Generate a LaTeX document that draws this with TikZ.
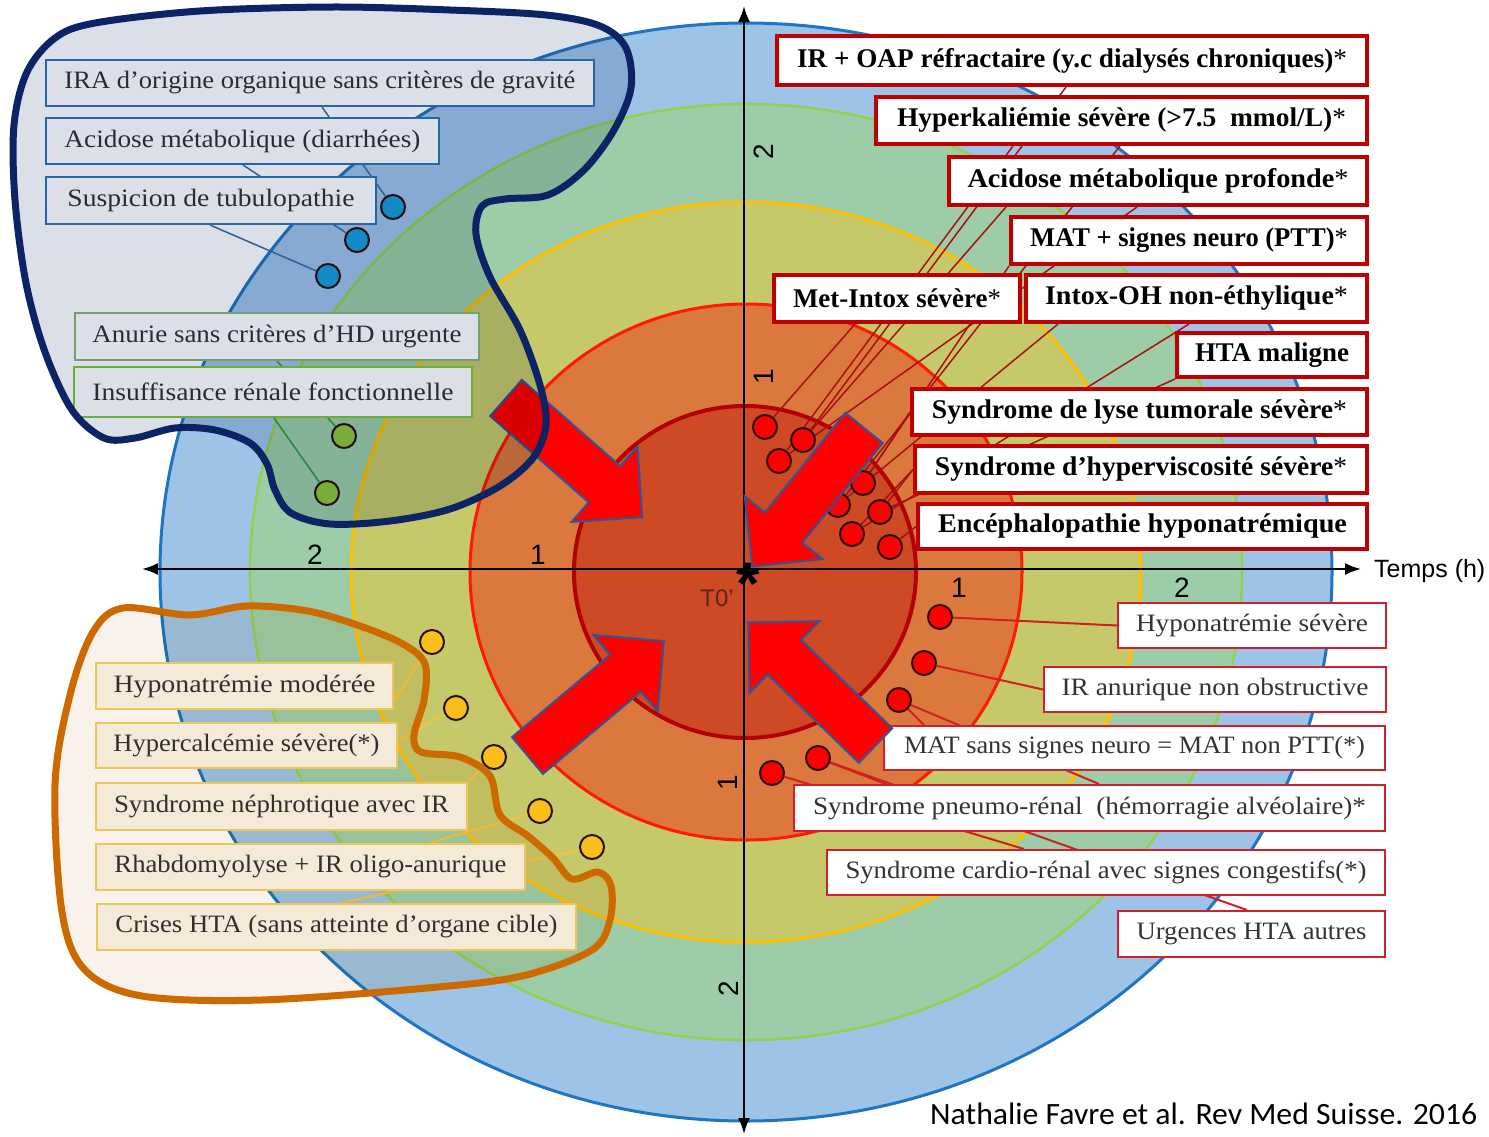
\documentclass[tikz,border=0pt]{standalone}
\usepackage{fontspec}
\usepackage{graphicx}
\setmainfont{Liberation Serif}
\newfontfamily\sansfont{Liberation Sans}
\newfontfamily\citefont{Carlito}
\usetikzlibrary{arrows.meta,calc}
\pgfdeclarelayer{rings}
\pgfdeclarelayer{links}
\pgfsetlayers{rings,links,main}
% stretch a label horizontally to a given width (in pt), keeping its height
\newcommand{\fitw}[2]{\resizebox{#1pt}{\height}{#2}}
% light asterisk used after the bold labels
\newcommand{\lightast}{{\mdseries*}}

\definecolor{ringblue}{HTML}{9DC3E6}
\definecolor{ringblueline}{HTML}{1F75C2}
\definecolor{ringgreen}{HTML}{9CCDA8}
\definecolor{ringgreenline}{HTML}{92D050}
\definecolor{ringyellow}{HTML}{C6C96A}
\definecolor{ringyellowline}{HTML}{FFC000}
\definecolor{ringorange}{HTML}{DB783E}
\definecolor{ringorangeline}{HTML}{FF1A00}
\definecolor{ringcore}{HTML}{CE4A25}
\definecolor{ringcoreline}{HTML}{B40000}
\definecolor{boxblue}{HTML}{2E75B6}
\definecolor{boxgreyg}{HTML}{8DB47F}
\definecolor{boxgreen}{HTML}{7CC840}
\definecolor{boxgold}{HTML}{F0D264}
\definecolor{boxcream}{HTML}{FBF6EC}
\definecolor{boxred}{HTML}{C00000}
\definecolor{boxredthin}{HTML}{D0202E}
\definecolor{textgrey}{HTML}{333333}
\definecolor{dotblue}{HTML}{149ED9}
\definecolor{dotgreen}{HTML}{8CC63E}
\definecolor{dotyellow}{HTML}{FABF1B}
\definecolor{dotred}{HTML}{FF0000}
\definecolor{dotedge}{HTML}{2A1010}
\definecolor{linkblue}{HTML}{3A6EA0}
\definecolor{linkgreen}{HTML}{2E9A48}
\definecolor{linkyellow}{HTML}{F2C43C}
\definecolor{linkred}{HTML}{A81010}
\definecolor{linkredb}{HTML}{D02020}
\definecolor{arrowedge}{HTML}{2F5597}
\definecolor{navyblob}{HTML}{0C2466}
\definecolor{blobgrey}{RGB}{218,223,232}
\definecolor{blobcream}{RGB}{249,242,234}
\definecolor{blobedge}{HTML}{CC6A00}
\definecolor{tzero}{RGB}{95,35,25}

\begin{document}
\begin{tikzpicture}[x=1pt,y=-1pt,
  ring/.style={line width=3pt},
  tick/.style={font=\sansfont\fontsize{28}{30}\selectfont, inner sep=0pt},
  tlbox/.style={draw=boxblue, line width=2pt, fill=white, inner sep=0pt, text=textgrey, font=\fontsize{25}{30}\selectfont},
  tgbox/.style={tlbox, draw=boxgreyg},
  tgbbox/.style={tlbox, draw=boxgreen},
  blbox/.style={draw=boxgold, line width=2pt, fill=boxcream, inner sep=0pt, text=textgrey, font=\fontsize{25}{30}\selectfont},
  rbbox/.style={draw=boxred, line width=4pt, fill=white, inner sep=0pt, text=black, font=\fontsize{27}{32}\selectfont\bfseries},
  rtbox/.style={draw=boxredthin, line width=2pt, fill=white, inner sep=0pt, text=textgrey, font=\fontsize{25}{30}\selectfont},
  dot/.style={circle, draw=dotedge, line width=2pt, minimum size=24pt, inner sep=0pt},
  dotb/.style={dot, fill=dotblue},
  dotg/.style={dot, fill=dotgreen},
  doty/.style={dot, fill=dotyellow},
  dotr/.style={dot, fill=dotred},
  linkb/.style={draw=linkblue, line width=1.5pt},
  linkg/.style={draw=linkgreen, line width=1.5pt},
  linky/.style={draw=linkyellow, line width=2pt},
  linkr/.style={draw=linkred, line width=1.5pt},
  linkrb/.style={draw=linkredb, line width=2pt},
  bigarrow/.style={fill=red, draw=arrowedge, line width=2pt, line join=miter},
  axis/.style={line width=2pt, {Latex[length=16pt,width=12pt]}-{Latex[length=16pt,width=12pt]}}
]

% ---------- concentric time rings and axes ----------
\begin{pgfonlayer}{rings}
\fill[white] (0,0) rectangle (1489,1136);
\filldraw[ring, fill=ringblue, draw=ringblueline] (746,572) ellipse [x radius=586pt, y radius=549pt];
\filldraw[ring, line width=2.5pt, fill=ringgreen, draw=ringgreenline] (746,572) ellipse [x radius=496pt, y radius=468pt];
\filldraw[ring, fill=ringyellow, draw=ringyellowline] (746,572) ellipse [x radius=395pt, y radius=370pt];
\filldraw[ring, fill=ringorange, draw=ringorangeline] (746,572) ellipse [x radius=276pt, y radius=268pt];
\filldraw[ring, line width=4pt, fill=ringcore, draw=ringcoreline] (745,572) ellipse [x radius=171pt, y radius=166pt];

\coordinate (xl) at (142,569);
\coordinate (xr) at (1361,569);
\coordinate (yt) at (744,6);
\coordinate (yb) at (744,1134);
\draw[axis] (xl) -- (xr);
\draw[axis] (yb) -- (yt);
\end{pgfonlayer}

% axis labels
\node[tick] (hl2) at (315,555) {2};
\node[tick] (hl1) at (538,555) {1};
\node[tick] (hr1) at (959,588) {1};
\node[tick] (hr2) at (1182,588) {2};
\node[tick, rotate=90] (vt2) at (764,152) {2};
\node[tick, rotate=90] (vt1) at (764,377) {1};
\node[tick, rotate=90] (vb1) at (728,783) {1};
\node[tick, rotate=90] (vb2) at (729,989) {2};
\node[font=\sansfont\fontsize{25}{30}\selectfont, anchor=west, inner sep=0pt] (temps) at (1374,571) {Temps (h)};
\node[font=\sansfont\fontsize{24}{28}\selectfont, text=tzero, inner sep=0pt] (tzero) at (717,598) {T0’};
\node[font=\sansfont\bfseries\fontsize{60}{60}\selectfont, inner sep=0pt] (origin) at (748,584) {*};

% ---------- dots ----------
\node[dotb] (db1) at (393,207) {};
\node[dotb] (db2) at (357,240) {};
\node[dotb] (db3) at (328,276) {};
\node[dotg] (dg1) at (344,436) {};
\node[dotg] (dg2) at (327,493) {};

\node[doty] (dy1) at (432,642) {};
\node[doty] (dy2) at (456,708) {};
\node[doty] (dy3) at (494,757) {};
\node[doty] (dy4) at (540,811) {};
\node[doty] (dy5) at (592,847) {};

\node[dotr] (ra) at (765,427) {};
\node[dotr] (rb) at (803,440) {};
\node[dotr] (rc) at (779,461) {};
\node[dotr] (rd) at (863,483) {};
\node[dotr] (re) at (838,505) {};
\node[dotr] (rf) at (880,512) {};
\node[dotr] (rg) at (852,534) {};
\node[dotr] (rh) at (890,547) {};

\node[dotr] (sa) at (940,617) {};
\node[dotr] (sb) at (924,663) {};
\node[dotr] (sc) at (899,700) {};
\node[dotr] (sd) at (818,758) {};
\node[dotr] (se) at (772,773) {};

% ---------- boxes, upper left ----------
\node[tlbox, minimum width=548pt, minimum height=46pt] (t1) at (320,83) {\fitw{511}{IRA d’origine organique sans critères de gravité}};
\node[tlbox, minimum width=393pt, minimum height=46pt] (t2) at (242.5,141) {\fitw{356}{Acidose métabolique (diarrhées)}};
\node[tlbox, minimum width=330pt, minimum height=47pt] (t3) at (211,200.5) {\fitw{287}{Suspicion de tubulopathie}};
\node[tgbox, minimum width=404pt, minimum height=47pt] (t4) at (277,336.5) {\fitw{369}{Anurie sans critères d’HD urgente}};
\node[tgbbox, minimum width=398pt, minimum height=50pt] (t5) at (273,392) {\fitw{361}{Insuffisance rénale fonctionnelle}};

% ---------- boxes, lower left ----------
\node[blbox, minimum width=297pt, minimum height=46pt] (b1) at (244.5,686) {\fitw{262}{Hyponatrémie modérée}};
\node[blbox, minimum width=301pt, minimum height=45pt] (b2) at (246.5,745.5) {\fitw{266}{Hypercalcémie sévère(*)}};
\node[blbox, minimum width=371pt, minimum height=47pt] (b3) at (281.5,806.5) {\fitw{335}{Syndrome néphrotique avec IR}};
\node[blbox, minimum width=429pt, minimum height=46pt] (b4) at (310.5,867) {\fitw{392}{Rhabdomyolyse + IR oligo-anurique}};
\node[blbox, minimum width=479pt, minimum height=46pt] (b5) at (336.5,927) {\fitw{442}{Crises HTA (sans atteinte d’organe cible)}};

% ---------- boxes, upper right ----------
\node[rbbox, minimum width=590pt, minimum height=49pt] (r1) at (1072,60.5) {\fitw{550}{IR + OAP réfractaire (y.c dialysés chroniques)\lightast}};
\node[rbbox, minimum width=491pt, minimum height=47pt] (r2) at (1121.5,120.5) {\fitw{449}{Hyperkaliémie sévère (>7.5\ \ mmol/L)\lightast}};
\node[rbbox, minimum width=418pt, minimum height=48pt] (r3) at (1158,181) {\fitw{381}{Acidose métabolique profonde\lightast}};
\node[rbbox, minimum width=356pt, minimum height=47pt] (r4) at (1189,240.5) {\fitw{318}{MAT + signes neuro (PTT)\lightast}};
\node[rbbox, minimum width=246pt, minimum height=47pt] (r5) at (897,298.5) {\fitw{208}{Met-Intox sévère\lightast}};
\node[rbbox, minimum width=341pt, minimum height=47pt] (r6) at (1196.5,298.5) {\fitw{303}{Intox-OH non-éthylique\lightast}};
\node[rbbox, minimum width=190pt, minimum height=44pt] (r7) at (1272,355) {\fitw{154}{HTA maligne}};
\node[rbbox, minimum width=455pt, minimum height=46pt] (r8) at (1139.5,412) {\fitw{415}{Syndrome de lyse tumorale sévère\lightast}};
\node[rbbox, minimum width=452pt, minimum height=47pt] (r9) at (1141,469.5) {\fitw{412}{Syndrome d’hyperviscosité sévère\lightast}};
\node[rbbox, minimum width=449pt, minimum height=45pt] (r10) at (1142.5,526.5) {\fitw{409}{Encéphalopathie hyponatrémique}};

% ---------- boxes, lower right ----------
\node[rtbox, minimum width=268pt, minimum height=45pt] (s1) at (1252,625.5) {\fitw{232}{Hyponatrémie sévère}};
\node[rtbox, minimum width=342pt, minimum height=45pt] (s2) at (1215,689.5) {\fitw{307}{IR anurique non obstructive}};
\node[rtbox, minimum width=501pt, minimum height=44pt] (s3) at (1134.5,748) {\fitw{461}{MAT sans signes neuro = MAT non PTT(*)}};
\node[rtbox, minimum width=591pt, minimum height=46pt] (s4) at (1089.5,808) {\fitw{553}{Syndrome pneumo-rénal\ \ (hémorragie alvéolaire)*}};
\node[rtbox, minimum width=558pt, minimum height=45pt] (s5) at (1106,872.5) {\fitw{521}{Syndrome cardio-rénal avec signes congestifs(*)}};
\node[rtbox, minimum width=267pt, minimum height=46pt] (s6) at (1251.5,934) {\fitw{230}{Urgences HTA autres}};

% ---------- connectors (behind boxes and dots) ----------
\begin{pgfonlayer}{links}
\draw[linkb] ($(t1.south west)+(277,0)$) -- (db1);
\draw[linkb] ($(t2.south west)+(198,0)$) -- (db2);
\draw[linkb] ($(t3.south west)+(165,0)$) -- (db3);
\draw[linkg] ($(t4.south west)+(203,0)$) -- (dg1);
\draw[linkg] ($(t5.south west)+(201,0)$) -- (dg2);

\draw[linky] (dy1) -- ($(b1.south east)+(0,-9)$);
\draw[linky] (dy2) -- ($(b2.east)+(0,-5)$);
\draw[linky] (dy3) -- (b3.north east);
\draw[linky] (dy4) -- ($(b4.north west)+(334,0)$);
\draw[linky] (dy5) -- ($(b5.north west)+(245,0)$);

\draw[linkr] (ra) -- ($(r5.south west)+(83,0)$);
\draw[linkr] (rb) -- ($(r1.south west)+(291,0)$);
\draw[linkr] (rc) -- ($(r2.south west)+(139,0)$);
\draw[linkr] (rb) -- ($(r3.south west)+(59,0)$);
\draw[linkr] (rc) -- ($(r3.south west)+(190,0)$);
\draw[linkr] (re) -- ($(r2.south west)+(246,0)$);
\draw[linkr] (rd) -- (r4.south west);
\draw[linkr] (re) -- ($(r6.south west)+(34,0)$);
\draw[linkr] (rg) -- ($(r6.south west)+(165,0)$);
\draw[linkr] (rf) -- (r7.south west);
\draw[linkr] (rd) -- (r8.west);
\draw[linkr] (rg) -- (r9.west);
\draw[linkr] (rf) -- (r9.west);
\draw[linkr] (rh) -- (r10.west);

\draw[linkrb] (sa) -- (s1.west);
\draw[linkrb] (sb) -- (s2.west);
\draw[linkrb] (sc) -- ($(s3.north west)+(41,0)$);
\draw[linkrb] (sc) -- ($(s4.north west)+(306,0)$);
\draw[linkrb] (sd) -- ($(s4.north west)+(93,0)$);
\draw[linkrb] (se) -- ($(s5.north west)+(198,0)$);
\draw[linkrb] (sd) -- ($(s6.north west)+(130,0)$);
\end{pgfonlayer}

% ---------- four block arrows pointing at T0 ----------
\draw[bigarrow, shift={(506,398)}, rotate=-41.2] (0,-24) -- (131,-24) -- (131,-50) -- (181,0) -- (131,50) -- (131,24) -- (0,24) -- cycle;
\draw[bigarrow, shift={(864,428)}, rotate=-128.9] (0,-24) -- (128,-24) -- (128,-50) -- (178,0) -- (128,50) -- (128,24) -- (0,24) -- cycle;
\draw[bigarrow, shift={(527.5,755.5)}, rotate=40] (0,-24) -- (128,-24) -- (128,-50) -- (178,0) -- (128,50) -- (128,24) -- (0,24) -- cycle;
\draw[bigarrow, shift={(875.5,745.5)}, rotate=135.9] (0,-24) -- (127,-24) -- (127,-50) -- (177,0) -- (127,50) -- (127,24) -- (0,24) -- cycle;

% ---------- grouping outlines ----------
\fill[blobgrey, blend mode=multiply] plot[smooth cycle, tension=0.55] coordinates {
 (95,23) (200,11) (332,7) (450,10) (546,15) (600,26) (626,48) (631,88) (614,130) (584,170) (548,195) (505,199) (482,206) (476,234) (490,277) (520,330) (540,385) (546,425) (533,458) (500,486) (450,509) (390,521) (330,524) (291,513) (275,490) (267,464) (250,443) (215,430) (175,428) (135,438) (104,438) (72,410) (45,352) (26,283) (15,200) (14,125) (27,72) (55,38)};
\draw[navyblob, line width=7pt, line join=round] plot[smooth cycle, tension=0.55] coordinates {
 (95,23) (200,11) (332,7) (450,10) (546,15) (600,26) (626,48) (631,88) (614,130) (584,170) (548,195) (505,199) (482,206) (476,234) (490,277) (520,330) (540,385) (546,425) (533,458) (500,486) (450,509) (390,521) (330,524) (291,513) (275,490) (267,464) (250,443) (215,430) (175,428) (135,438) (104,438) (72,410) (45,352) (26,283) (15,200) (14,125) (27,72) (55,38)};

\fill[blobcream, blend mode=multiply] plot[smooth cycle, tension=0.55] coordinates {
 (123,608) (190,615) (247,606) (308,611) (360,626) (403,644) (425,664) (424,700) (414,735) (421,752) (460,757) (490,776) (500,815) (528,836) (553,858) (572,879) (598,872) (611,886) (610,920) (592,950) (522,976) (427,988) (261,1000) (142,996) (85,970) (62,912) (55,785) (70,695) (93,632)};
\draw[blobedge, line width=7pt, line join=round] plot[smooth cycle, tension=0.55] coordinates {
 (123,608) (190,615) (247,606) (308,611) (360,626) (403,644) (425,664) (424,700) (414,735) (421,752) (460,757) (490,776) (500,815) (528,836) (553,858) (572,879) (598,872) (611,886) (610,920) (592,950) (522,976) (427,988) (261,1000) (142,996) (85,970) (62,912) (55,785) (70,695) (93,632)};

% ---------- source ----------
\node[font=\citefont\fontsize{31}{36}\selectfont, anchor=west, inner sep=0pt] (cite) at (930,1114) {\fitw{547}{Nathalie Favre et al. Rev Med Suisse. 2016}};
\end{tikzpicture}
\end{document}
